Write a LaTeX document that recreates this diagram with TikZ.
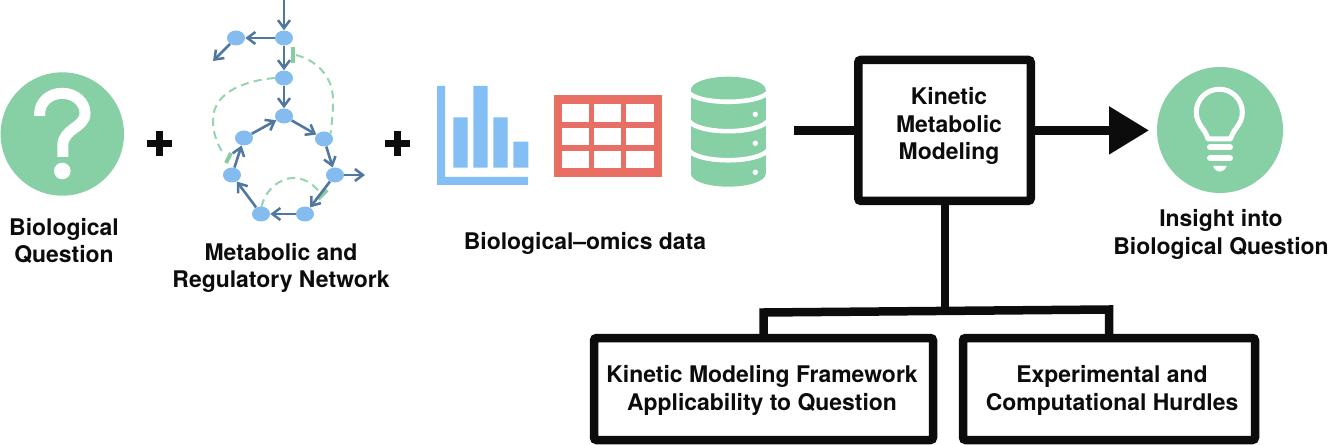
\documentclass[tikz,border=0pt]{standalone}
\usepackage{fontspec}
\setmainfont{TeX Gyre Heros}
\usetikzlibrary{arrows.meta,shapes.geometric}
\newlength\pxu
\setlength\pxu{0.75pt}
\definecolor{cgreen}{HTML}{87D0A6}
\definecolor{cblue}{HTML}{83BEF5}
\definecolor{cnode}{HTML}{85BCF0}
\definecolor{carrow}{HTML}{50789F}
\definecolor{cred}{HTML}{E86F64}
\definecolor{cdash}{HTML}{93D5AE}
\definecolor{cbar}{HTML}{84CF9B}
\definecolor{cblack}{HTML}{0C0C0C}
\tikzset{
  lab/.style={align=center,inner sep=0pt,font=\bfseries\fontsize{17.2}{20.8}\selectfont,text=cblack},
  box/.style={lab,draw=cblack,fill=white,line width=8.5\pxu,rounded corners=2pt,minimum height=102\pxu},
  net/.style={ellipse,fill=cnode,inner sep=0pt,minimum width=18\pxu,minimum height=15\pxu},
  flow/.style={draw=carrow,line width=2.6\pxu,-{Straight Barb[length=6pt,width=9pt,line width=1.9pt]}},
  reg/.style={draw=cdash,line width=2\pxu,dash pattern=on 6pt off 4pt},
  tbar/.style={draw=cbar,line width=4\pxu},
  wire/.style={draw=cblack,line width=8.5\pxu},
  plus/.style={draw=cblack,line width=7\pxu},
  icon/.style={draw=white,line width=5\pxu,line join=round},
  dbband/.style={draw=white,line width=4.6\pxu}
}
\begin{document}
\begin{tikzpicture}[x=0.75pt,y=-0.75pt]
\useasboundingbox (0,0) rectangle (1333,445);
% question icon
\fill[cgreen] (62.3,134) circle[radius=61.7];
\draw[white,line width=11\pxu] (39.7,116) -- (39.7,113.3) .. controls (39.7,102) and (49.8,93.3) .. (62.3,93.3) .. controls (74.8,93.3) and (85,102) .. (85,113.3) .. controls (85,128) and (62.8,128) .. (62.8,146) -- (62.8,157);
\fill[white] (62.3,171) circle[radius=8.3];
\node[lab] (q) at (64,241) {Biological\\Question};
% plus signs
\draw[plus] (146.5,143.5) -- (171.5,143.5) (159,131) -- (159,156);
\draw[plus] (384.5,144) -- (409.5,144) (397,131.5) -- (397,156.5);
% network
\coordinate (top) at (284,0);
\coordinate (out1) at (213,61);
\coordinate (out2) at (365,175);
\node[net] (n0) at (236,38) {};
\node[net] (n1) at (284,38) {};
\node[net] (n2) at (284,78) {};
\node[net] (n3) at (284,116) {};
\node[net] (n4) at (244,138) {};
\node[net] (n5) at (324,139) {};
\node[net] (n6) at (232,175) {};
\node[net] (n7) at (335,175) {};
\node[net] (n8) at (261,214) {};
\node[net] (n9) at (305,214) {};
\draw[reg] (n2.west) .. controls (250,80) and (213,90) .. (213,120) .. controls (213,135) and (218,145) .. (224,155);
\draw[reg] (296,55) .. controls (315,60) and (333,75) .. (333,100) .. controls (333,112) and (332,122) .. (n5.north east);
\draw[reg] (261.5,207) .. controls (265,190) and (280,178) .. (293,178) .. controls (303,178) and (312,182) .. (321,194);
\draw[tbar] (293,47) -- (293,63);
\draw[tbar] (226,163) -- (231,153);
\draw[tbar] (318,199) -- (327,190);
\draw[flow] (top) -- (n1);
\draw[flow] (n1) -- (n0);
\draw[flow] (n0) -- (out1);
\draw[flow] (n1) -- (n2);
\draw[flow] (n2) -- (n3);
\draw[flow] (n3) -- (n5);
\draw[flow] (n5) -- (n7);
\draw[flow] (n7) -- (out2);
\draw[flow] (n7) -- (n9);
\draw[flow] (n9) -- (n8);
\draw[flow] (n8) -- (n6);
\draw[flow] (n6) -- (n4);
\draw[flow] (n4) -- (n3);
\node[lab] (net) at (281,268) {Metabolic and\\Regulatory Network};
% bar chart
\fill[cblue] (437,86) rectangle (445,185) (437,177) rectangle (528,185);
\fill[cblue] (453.3,117.3) rectangle (467.7,167.7) (473.3,86) rectangle (487.7,167.7) (493.3,117.3) rectangle (507.7,167.7) (513.3,141.7) rectangle (528.3,167.7);
% table
\fill[cred] (554.3,95.3) rectangle (662,177.3);
\foreach \xa/\xb in {562/589,594/621,626/654.3}
  \foreach \ya/\yb in {104.3/121.7,127.7/145,151/168.3}
    \fill[white] (\xa,\ya) rectangle (\xb,\yb);
% database
\fill[cgreen] (728.3,89.7) ellipse[x radius=37.3,y radius=13];
\fill[cgreen] (691,89.7) rectangle (765.6,174);
\fill[cgreen] (728.3,174) ellipse[x radius=37.3,y radius=12.7];
\draw[dbband] (689,93) .. controls (700,104.7) and (756,104.7) .. (767.6,93);
\draw[dbband] (689,121.3) .. controls (700,134.5) and (756,134.5) .. (767.6,121.3);
\draw[dbband] (689,150.7) .. controls (700,163.4) and (756,163.4) .. (767.6,150.7);
\fill[white] (755.3,114.3) circle[radius=2.7] (755.3,143.3) circle[radius=2.7] (755.3,172.3) circle[radius=2.7];
\node[lab] (omics) at (585,243) {Biological–omics data};
% boxes
\node[box,minimum width=172.5\pxu,minimum height=141\pxu] (main) at (944.5,130.4) {};
\node[lab] (maintext) at (949,126) {Kinetic\\Metabolic\\Modeling};
\node[box,minimum width=339\pxu] (fw) at (763.5,389) {};
\node[lab] (fwtext) at (762,390.5) {Kinetic Modeling Framework\\Applicability to Question};
\node[box,minimum width=292\pxu] (hu) at (1109,389) {};
\node[lab] (hutext) at (1112,390.5) {Experimental and\\Computational Hurdles};
% connectors
\coordinate (stub) at (794,130.4);
\coordinate (tip) at (1149,130.4);
\coordinate (busl) at (763.5,312.5);
\coordinate (busr) at (1109,309.5);
\coordinate (busm) at (945,311);
\draw[wire] (stub) -- (main.west);
\draw[wire,-{Triangle[length=30pt,width=34.5pt]}] (main.east) -- (tip);
\draw[wire] (busm |- main.south) -- (busm);
\draw[wire,line join=miter] (busl |- fw.north) -- (busl) -- (busr) -- (busr |- hu.north);
% bulb
\fill[cgreen] (1220,130) circle[radius=63];
\draw[icon] (1208,139) .. controls (1205,128) and (1196.3,125) .. (1196.3,112) .. controls (1196.3,99.5) and (1206.5,89.2) .. (1219.3,89.2) .. controls (1232,89.2) and (1242.3,99.5) .. (1242.3,112) .. controls (1242.3,125) and (1233.5,128) .. (1230.5,139) -- cycle;
\draw[icon,line width=6\pxu,line cap=round] (1210,147.3) -- (1230,147.3) (1210,158.3) -- (1230,158.3);
\fill[white] (1213,166) -- (1226.7,166) .. controls (1225,170) and (1222,171.7) .. (1219.8,171.7) .. controls (1217.5,171.7) and (1214.5,170) .. (1213,166) -- cycle;
\node[lab] (ins) at (1221,234.5) {Insight into\\Biological Question};
\end{tikzpicture}
\end{document}
